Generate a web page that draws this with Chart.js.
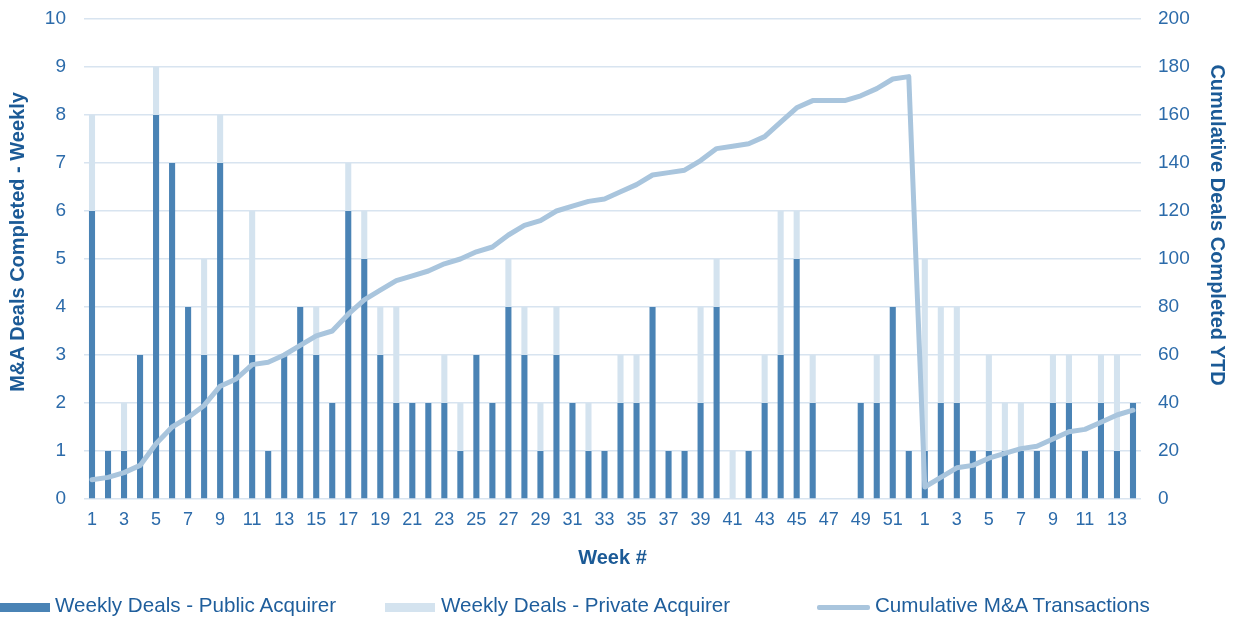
<!DOCTYPE html>
<html>
<head>
<meta charset="utf-8">
<script src="https://cdn.jsdelivr.net/npm/chart.js@4"></script>
<style>
  html, body { margin: 0; padding: 0; background: #ffffff; }
  #wrap { position: relative; width: 1236px; height: 621px; overflow: hidden; }
  canvas { position: absolute; left: 0; top: 0; }
  .leg { position: absolute; top: 593px; font-family: "Liberation Sans", Arial, sans-serif; font-size: 20.6px; color: #1F5E9C; white-space: nowrap; line-height: 24px; }
  .sw { position: absolute; }
</style>
</head>
<body>
<div id="wrap">
  <canvas id="c" width="1236" height="621"></canvas>
  <div class="sw" style="left:0px;top:603px;width:50px;height:9px;background:#4A83B5;"></div>
  <div class="leg" style="left:55px;">Weekly Deals - Public Acquirer</div>
  <div class="sw" style="left:385px;top:603px;width:50px;height:9px;background:#D4E3EF;"></div>
  <div class="leg" style="left:441px;">Weekly Deals - Private Acquirer</div>
  <div class="sw" style="left:817px;top:605px;width:53px;height:5px;background:#A9C5DD;border-radius:2px;"></div>
  <div class="leg" style="left:875px;">Cumulative M&amp;A Transactions</div>
</div>
<script>
const weeks = [
  "1","2","3","4","5","6","7","8","9","10","11","12","13","14","15","16","17","18","19","20",
  "21","22","23","24","25","26","27","28","29","30","31","32","33","34","35","36","37","38","39","40",
  "41","42","43","44","45","46","47","48","49","50","51","52",
  "1","2","3","4","5","6","7","8","9","10","11","12","13","14"
];
const publicDeals = [
  6,1,1,3,8,7,4,3,7,3,3,1,3,4,3,2,6,5,3,2,
  2,2,2,1,3,2,4,3,1,3,2,1,1,2,2,4,1,1,2,4,
  0,1,2,3,5,2,0,0,2,2,4,1,
  1,2,2,1,1,1,1,1,2,2,1,2,1,2
];
const privateDeals = [
  2,0,1,0,1,0,0,2,1,0,3,0,0,0,1,0,1,1,1,2,
  0,0,1,1,0,0,1,1,1,1,0,1,0,1,1,0,0,0,2,1,
  1,0,1,3,1,1,0,0,0,1,0,0,
  4,2,2,0,2,1,1,0,1,1,0,1,2,0
];
const cumulative = [
  8,9,11,14,23,30,34,39,47,50,56,57,60,64,68,70,77,83,87,91,
  93,95,98,100,103,105,110,114,116,120,122,124,125,128,131,135,136,137,141,146,
  147,148,151,157,163,166,166,166,168,171,175,176,
  5,9,13,14,17,19,21,22,25,28,29,32,35,37
];
const leftTicks = [0,1,2,3,4,5,6,7,8,9,10];
const rightTicks = [0,20,40,60,80,100,120,140,160,180,200];
const leftTitle = "M&A Deals Completed - Weekly";
const rightTitle = "Cumulative Deals Completed YTD";

const FONT = "'Liberation Sans', Arial, sans-serif";
const TICK_COLOR = "#2C6BAA";
const TITLE_COLOR = "#1B5A96";
const GRID = "#D8E4F0";

const axisTitles = {
  id: "axisTitles",
  afterDraw(chart) {
    const ctx = chart.ctx;
    ctx.save();
    ctx.font = "bold 20px " + FONT;
    ctx.fillStyle = TITLE_COLOR;
    ctx.textAlign = "center";
    ctx.textBaseline = "middle";
    ctx.save();
    ctx.translate(18, 242);
    ctx.rotate(-Math.PI / 2);
    ctx.fillText(leftTitle, 0, 0);
    ctx.restore();
    ctx.save();
    ctx.translate(1217, 225);
    ctx.rotate(Math.PI / 2);
    ctx.fillText(rightTitle, 0, 0);
    ctx.restore();
    ctx.restore();
  }
};

new Chart(document.getElementById("c"), {
  data: {
    labels: weeks,
    datasets: [
      {
        type: "line",
        label: "Cumulative M&A Transactions",
        data: cumulative,
        yAxisID: "y1",
        borderColor: "#A9C5DD",
        borderWidth: 5,
        pointRadius: 0,
        tension: 0,
        borderJoinStyle: "round",
        borderCapStyle: "round",
        order: 0
      },
      {
        type: "bar",
        label: "Weekly Deals - Public Acquirer",
        data: publicDeals,
        yAxisID: "y",
        backgroundColor: "#4A83B5",
        barPercentage: 0.38,
        categoryPercentage: 1,
        order: 1
      },
      {
        type: "bar",
        label: "Weekly Deals - Private Acquirer",
        data: privateDeals,
        yAxisID: "y",
        backgroundColor: "#D4E3EF",
        barPercentage: 0.38,
        categoryPercentage: 1,
        order: 1
      }
    ]
  },
  plugins: [axisTitles],
  options: {
    responsive: false,
    animation: false,
    layout: { padding: { top: 19, bottom: 44, left: 0, right: 0 } },
    plugins: { legend: { display: false }, tooltip: { enabled: false } },
    scales: {
      x: {
        stacked: true,
        grid: { display: false, drawTicks: false },
        border: { display: false },
        ticks: {
          autoSkip: false,
          maxRotation: 0,
          minRotation: 0,
          color: TICK_COLOR,
          font: { family: FONT, size: 18 },
          padding: 10,
          callback: function(v, i) { return i % 2 === 0 ? weeks[i] : ""; }
        },
        title: {
          display: true,
          text: "Week #",
          color: TITLE_COLOR,
          font: { family: FONT, size: 20, weight: "bold" },
          padding: { top: 4, bottom: 7 }
        },
        afterFit: function(s) { s.height = 78; }
      },
      y: {
        type: "linear",
        position: "left",
        stacked: true,
        min: 0,
        max: 10,
        afterBuildTicks: function(s) { s.ticks = leftTicks.map(v => ({ value: v })); },
        grid: { color: GRID, lineWidth: 1.5, drawTicks: true, tickLength: 18, tickColor: "rgba(0,0,0,0)" },
        border: { display: false },
        ticks: {
          color: TICK_COLOR,
          font: { family: FONT, size: 19 },
          padding: 0
        },
        afterFit: function(s) { s.width = 84; }
      },
      y1: {
        type: "linear",
        position: "right",
        min: 0,
        max: 200,
        afterBuildTicks: function(s) { s.ticks = rightTicks.map(v => ({ value: v })); },
        grid: { drawOnChartArea: false, drawTicks: true, tickLength: 17, tickColor: "rgba(0,0,0,0)" },
        border: { display: false },
        ticks: {
          color: TICK_COLOR,
          font: { family: FONT, size: 19 },
          padding: 0
        },
        afterFit: function(s) { s.width = 95; }
      }
    }
  }
});
</script>
</body>
</html>
